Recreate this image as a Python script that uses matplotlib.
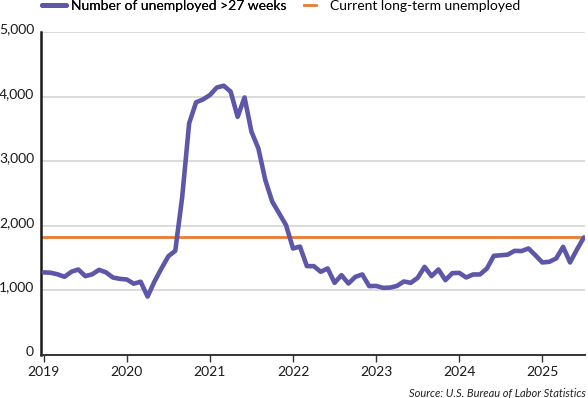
import matplotlib
matplotlib.use("Agg")
import matplotlib.pyplot as plt
import matplotlib.transforms as mtransforms
from matplotlib.lines import Line2D

# ---- data ----
years = ["2019", "2020", "2021", "2022", "2023", "2024", "2025"]
unemployed_27wk = [
    1280, 1275, 1250, 1212, 1290, 1325, 1222, 1250, 1320, 1280, 1200, 1180,   # 2019
    1170, 1105, 1135, 905, 1140, 1340, 1530, 1615, 2450, 3590, 3915, 3960,    # 2020
    4028, 4145, 4172, 4080, 3690, 3990, 3460, 3200, 2710, 2375, 2195, 2010,   # 2021
    1650, 1680, 1377, 1377, 1289, 1341, 1118, 1237, 1108, 1211, 1248, 1067,   # 2022
    1070, 1041, 1044, 1070, 1139, 1118, 1196, 1366, 1222, 1325, 1160, 1268,   # 2023
    1273, 1201, 1248, 1248, 1341, 1537, 1545, 1555, 1614, 1610, 1651, 1545,   # 2024
    1434, 1444, 1496, 1676, 1434, 1635, 1822,                                 # 2025
]
current_long_term = 1822
y_ticks = [0, 1000, 2000, 3000, 4000, 5000]
y_tick_labels = ["0", "1,000", "2,000", "3,000", "4,000", "5,000"]
series_label = "Number of unemployed >27 weeks"
ref_label = "Current long-term unemployed"
source_text = "Source: U.S. Bureau of Labor Statistics"

PURPLE = "#5D57A9"
ORANGE = "#EB7A32"
FONT = "Lato"
FS = 10

plt.rcParams["font.family"] = [FONT, "DejaVu Sans"]

W, H = 588, 398
fig = plt.figure(figsize=(W / 100, H / 100), dpi=100)
ax = fig.add_axes([41 / W, (H - 355) / H, (585 - 41) / W, (355 - 32.3) / H])

months = list(range(len(unemployed_27wk)))

for yv in y_ticks[1:]:
    ax.axhline(yv, color="#D8D8D8", lw=1.3, zorder=0)

ax.axhline(current_long_term, color=ORANGE, lw=2.0, zorder=2)
ax.plot(months, unemployed_27wk, color=PURPLE, lw=3.3, solid_joinstyle="round",
        solid_capstyle="round", zorder=3)

ax.set_xlim(-0.39, 78.16)
ax.set_ylim(0, 5000)

ax.set_xticks([12 * i for i in range(len(years))])
ax.set_xticklabels(years)
ax.set_yticks(y_ticks)
ax.set_yticklabels(y_tick_labels)

for s in ["top", "right"]:
    ax.spines[s].set_visible(False)
ax.spines["left"].set_color("#1a1a1a")
ax.spines["left"].set_linewidth(1.8)
ax.spines["bottom"].set_color("#333333")
ax.spines["bottom"].set_linewidth(1.4)

ax.tick_params(axis="x", length=5, width=1, color="#333333", pad=3,
               labelsize=FS, labelcolor="#1a1a1a")
ax.tick_params(axis="y", length=0, pad=5, labelsize=FS, labelcolor="#1a1a1a")

offset = mtransforms.ScaledTranslation(0, 4 / 100, fig.dpi_scale_trans)
for lab in ax.get_yticklabels():
    lab.set_transform(lab.get_transform() + offset)

# legends
h1 = Line2D([], [], color=PURPLE, lw=3.5, solid_capstyle="round")
h2 = Line2D([], [], color=ORANGE, lw=2.0)
leg1 = fig.legend([h1], [series_label], loc="center left",
                  bbox_to_anchor=(42 / W, 1 - 5.5 / H), frameon=False,
                  fontsize=FS, handlelength=1.7, handletextpad=0.42,
                  borderaxespad=0, borderpad=0)
leg2 = fig.legend([h2], [ref_label], loc="center left",
                  bbox_to_anchor=(304 / W, 1 - 5.5 / H), frameon=False,
                  fontsize=FS, handlelength=0.86, handletextpad=0.98,
                  borderaxespad=0, borderpad=0)
fig.add_artist(leg1)

fig.text(586 / W, 1 - 394 / H, source_text, ha="right", va="center",
         fontsize=8, style="italic", color="#222222")

fig.savefig("out.png", dpi=100)
